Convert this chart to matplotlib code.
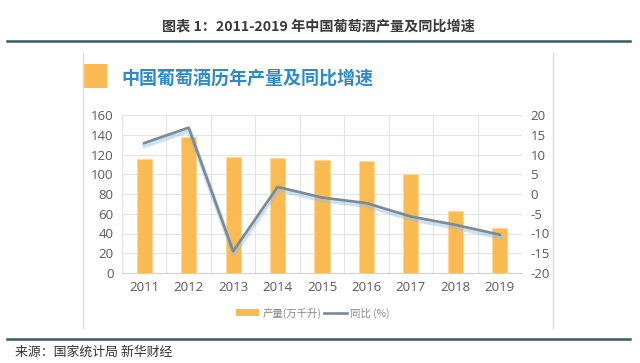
import matplotlib
matplotlib.use("Agg")
import matplotlib.pyplot as plt
import matplotlib.patheffects as pe
from matplotlib.patches import Rectangle
from matplotlib.lines import Line2D
import numpy as np

plt.rcParams['font.family'] = ['Noto Sans CJK SC', 'DejaVu Sans']
plt.rcParams['axes.unicode_minus'] = False

years = ['2011', '2012', '2013', '2014', '2015', '2016', '2017', '2018', '2019']
production = [115.7, 138.2, 117.8, 116.1, 114.8, 113.7, 100.1, 62.9, 45.1]
yoy = [12.9, 16.8, -14.5, 1.8, -0.9, -2.3, -5.7, -7.8, -10.3]
left_ticks = [0, 20, 40, 60, 80, 100, 120, 140, 160]
right_ticks = [-20, -15, -10, -5, 0, 5, 10, 15, 20]

W, H = 640, 363
fig = plt.figure(figsize=(6.4, 3.63), dpi=100)
fig.patch.set_facecolor('white')

def fx(px):
    return px / W

def fy(py):
    return 1 - py / H

# Title and rules
fig.text(fx(318), fy(26), '图表 1：2011-2019 年中国葡萄酒产量及同比增速',
         ha='center', va='center', fontsize=10.2, color='#3a3a3a', fontweight='bold')
fig.add_artist(Line2D([fx(7), fx(630)], [fy(41), fy(41)], color='#3c5865', lw=1.8))
fig.add_artist(Line2D([fx(7), fx(630)], [fy(339), fy(339)], color='#3c5865', lw=1.8))
fig.text(fx(15), fy(352), '来源：国家统计局 新华财经', ha='left', va='center',
         fontsize=9.3, color='#333333')

# Panel borders
fig.add_artist(Line2D([fx(83), fx(83)], [fy(53), fy(328)], color='#dcdcdc', lw=1.0))
fig.add_artist(Line2D([fx(553), fx(553)], [fy(53), fy(328)], color='#dcdcdc', lw=1.0))

# Subtitle
fig.add_artist(Rectangle((fx(83), fy(88)), fx(24), 24 / H, transform=fig.transFigure,
                         facecolor='#FBBA52', edgecolor='none'))
fig.text(fx(121), fy(79), '中国葡萄酒历年产量及同比增速', ha='left', va='center',
         fontsize=13, color='#2d8ac8', fontweight='bold')

tick_font = ['Open Sans', 'DejaVu Sans']

# Axes
ax = fig.add_axes([fx(122), fy(273), fx(522) - fx(122), (273 - 115) / H])
x = np.arange(len(years))
ax.bar(x, production, width=0.34, color='#FBBA52', edgecolor='#FDD99A', linewidth=0.8, zorder=3)
ax.set_xlim(-0.5, len(years) - 0.5)
ax.set_ylim(0, 160)
ax.set_yticks(left_ticks)
ax.set_xticks(x)
ax.set_xticklabels(years)
for v in left_ticks[1:]:
    ax.axhline(v, color='#e4e4e4', lw=0.8, zorder=0)
for b in np.arange(-0.5, len(years) + 0.5, 1):
    ax.axvline(b, color='#e4e4e4', lw=0.8, zorder=0)
for s in ['top', 'right', 'left']:
    ax.spines[s].set_visible(False)
ax.spines['bottom'].set_color('#d0d0d0')
ax.tick_params(axis='both', length=0, labelsize=9.5, colors='#595959')
ax.tick_params(axis='x', pad=6)
ax.tick_params(axis='y', pad=6)
for lab in ax.get_xticklabels() + ax.get_yticklabels():
    lab.set_family(tick_font)

ax2 = ax.twinx()
ax2.set_ylim(-20, 20)
ax2.set_yticks(right_ticks)
for s in ax2.spines.values():
    s.set_visible(False)
ax2.tick_params(axis='y', length=0, labelsize=9.5, colors='#595959', pad=6)
for lab in ax2.get_yticklabels():
    lab.set_family(tick_font)
ax2.plot(x, yoy, color='#7b8994', lw=1.9, zorder=4,
         path_effects=[pe.SimpleLineShadow(offset=(0.5, -1.8), shadow_color='#8fbfe6', alpha=0.45, linewidth=3.5),
                       pe.Normal()])

# Legend
handles = [Rectangle((0, 0), 1, 1, facecolor='#FBBA52', edgecolor='none'),
           Line2D([0], [0], color='#7b8994', lw=1.9)]
leg = fig.legend(handles, ['产量(万千升)', '同比 (%)'], loc='center',
                 bbox_to_anchor=(fx(313), fy(313)), ncol=2, frameon=False,
                 fontsize=7.5, handlelength=2.2, handleheight=0.6, handletextpad=0.3,
                 columnspacing=0.3, labelcolor='#888888')

fig.savefig('out.png', dpi=100, facecolor='white')
